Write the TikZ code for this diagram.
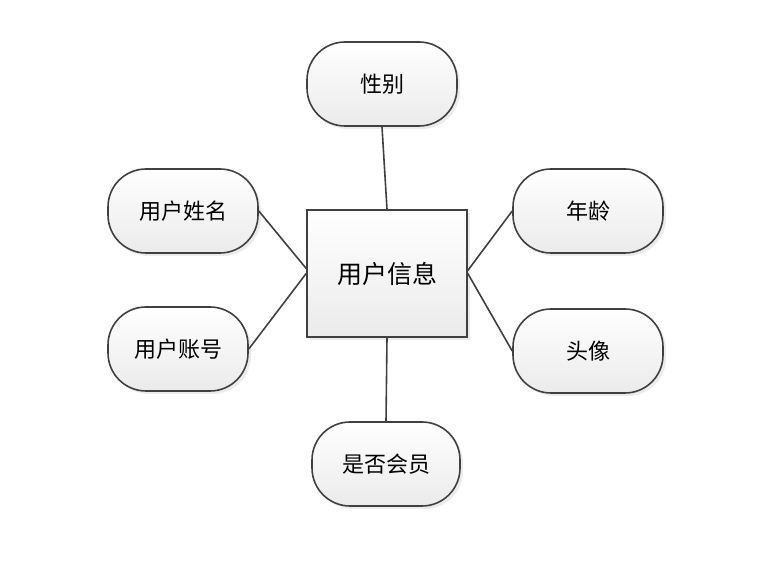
\documentclass[tikz,border=0pt]{standalone}
\usepackage{fontspec}
\newfontfamily\cjk{Noto Sans CJK SC}
\usetikzlibrary{shadows}
\begin{document}
\begin{tikzpicture}[x=1pt,y=1pt,
  attr/.style={draw=black!75,line width=1.6pt,rounded corners=38pt,minimum width=150pt,minimum height=84pt,top color=white,bottom color=black!8,drop shadow={shadow xshift=3pt,shadow yshift=-3pt,fill=black!15},font=\cjk\fontsize{22}{26}\selectfont},
  ent/.style={draw=black!75,line width=1.6pt,minimum width=160pt,minimum height=127pt,top color=white,bottom color=black!8,drop shadow={shadow xshift=3pt,shadow yshift=-3pt,fill=black!15},font=\cjk\fontsize{25}{30}\selectfont},
  link/.style={draw=black!75,line width=1.6pt}]
\useasboundingbox (0,0) rectangle (773,575);
\node[ent] (u) at (387,301.5) {用户信息};
\node[attr] (xb) at (382,491) {性别};
\node[attr] (xm) at (183,364) {用户姓名};
\node[attr,minimum width=140pt] (zh) at (178,226) {用户账号};
\node[attr] (nl) at (588,364) {年龄};
\node[attr] (tx) at (588,224) {头像};
\node[attr,minimum width=148pt] (hy) at (386,111) {是否会员};
\draw[link] (xb.south) -- ([xshift=0pt]u.north);
\draw[link] (xm.east) -- ([yshift=5pt]u.west);
\draw[link] (zh.east) -- ([yshift=0pt]u.west);
\draw[link] (nl.west) -- ([yshift=3pt]u.east);
\draw[link] (tx.west) -- ([yshift=0pt]u.east);
\draw[link] (hy.north) -- (u.south);
\end{tikzpicture}
\end{document}
